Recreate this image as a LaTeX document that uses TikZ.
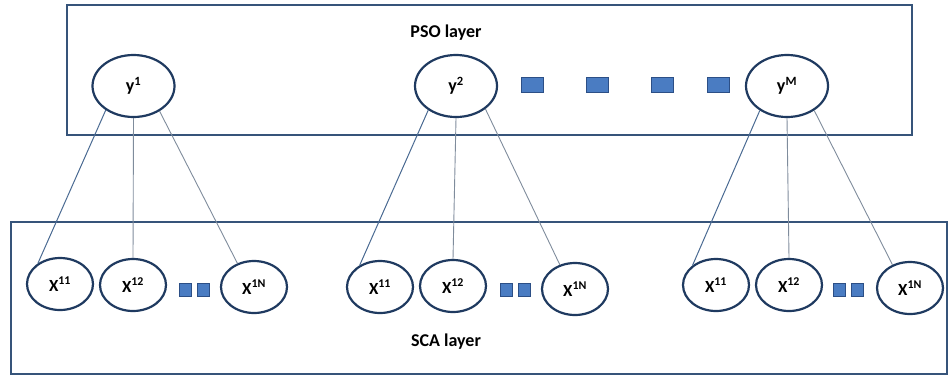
\documentclass[tikz,border=0pt]{standalone}
\usepackage{fontspec}
\setmainfont{Carlito}
\usetikzlibrary{shapes.geometric}
\definecolor{framec}{HTML}{36547A}
\definecolor{ringc}{HTML}{1F3A60}
\definecolor{linkc}{HTML}{4A6A92}
\definecolor{linkpalec}{HTML}{7F8C9C}
\definecolor{sqfill}{HTML}{4A7CC2}
\definecolor{sqdraw}{HTML}{2C4F86}
\tikzset{
  layerbox/.style={draw=framec, line width=2.5pt},
  lbl/.style={font=\fontsize{18}{20}\selectfont\bfseries, text=black},
  smalllbl/.style={font=\fontsize{17}{19}\selectfont\bfseries, text=black},
  upper/.style={ellipse, draw=ringc, line width=2.2pt, fill=white,
    minimum width=82pt, minimum height=62pt, inner sep=0pt, lbl},
  lower/.style={ellipse, draw=ringc, line width=2.2pt, fill=white,
    minimum width=66pt, minimum height=52pt, inner sep=0pt, smalllbl},
  bigsq/.style={rectangle, fill=sqfill, draw=sqdraw, line width=0.8pt,
    minimum width=22pt, minimum height=15pt, inner sep=0pt},
  smallsq/.style={rectangle, fill=sqfill, draw=sqdraw, line width=0.8pt,
    minimum width=12pt, minimum height=13pt, inner sep=0pt},
  link/.style={draw=linkc, line width=1pt},
  linkpale/.style={draw=linkpalec, line width=0.9pt},
}
\begin{document}
\begin{tikzpicture}[x=1pt, y=-1pt]
\useasboundingbox (0,0) rectangle (949,378);

% the two layers
\draw[layerbox] (67,5) rectangle (912,135);
\draw[layerbox] (11,222) rectangle (947,374);
\node[lbl] (pso) at (446,33) {PSO layer};
\node[lbl] (sca) at (446,342) {SCA layer};

% PSO particles
\node[upper] (y1) at (133.5,86) {y\textsuperscript{1}};
\node[upper] (y2) at (456,86) {y\textsuperscript{2}};
\node[upper] (yM) at (787,86) {y\textsuperscript{M}};
\node[bigsq] (q1) at (532,84.5) {};
\node[bigsq] (q2) at (597,84.5) {};
\node[bigsq] (q3) at (662,84.5) {};
\node[bigsq] (q4) at (718,84.5) {};

% SCA agents, first group
\node[lower] (a11) at (60,284) {X\textsuperscript{11}};
\node[lower] (a12) at (133,285) {X\textsuperscript{12}};
\node[smallsq] (as1) at (185,289.5) {};
\node[smallsq] (as2) at (203,289.5) {};
\node[lower] (a1N) at (254,287) {X\textsuperscript{1N}};

% second group
\node[lower] (b11) at (380,287) {X\textsuperscript{11}};
\node[lower] (b12) at (453,286) {X\textsuperscript{12}};
\node[smallsq] (bs1) at (506.5,289.5) {};
\node[smallsq] (bs2) at (524.5,289.5) {};
\node[lower] (b1N) at (575,289) {X\textsuperscript{1N}};

% third group
\node[lower] (c11) at (716,285) {X\textsuperscript{11}};
\node[lower] (c12) at (789,285) {X\textsuperscript{12}};
\node[smallsq] (cs1) at (839,289.5) {};
\node[smallsq] (cs2) at (857,289.5) {};
\node[lower] (c1N) at (910,288) {X\textsuperscript{1N}};

% connectors
\draw[link] (y1.221) -- (a11.137);
\draw[linkpale] (y1.south) -- (a12.north);
\draw[linkpale] (y1.316) -- (a1N.125);

\draw[link] (y2.221) -- (b11.133);
\draw[linkpale] (y2.south) -- (b12.north);
\draw[linkpale] (y2.322) -- (b1N.122);

\draw[link] (yM.222) -- (c11.140);
\draw[linkpale] (yM.south) -- (c12.north);
\draw[linkpale] (yM.318) -- (c1N.127);
\end{tikzpicture}
\end{document}
